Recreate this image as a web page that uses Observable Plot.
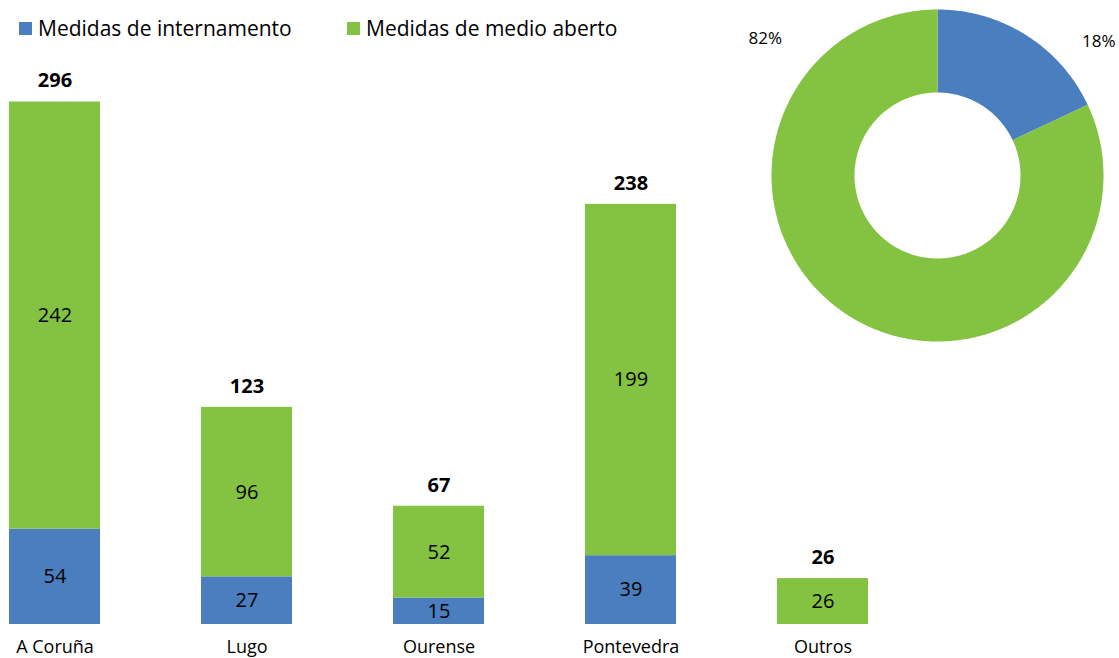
<!DOCTYPE html>
<html><head><meta charset="utf-8">
<script src="https://cdn.jsdelivr.net/npm/d3@7"></script>
<script src="https://cdn.jsdelivr.net/npm/@observablehq/plot@0.6"></script>
<style>
body{margin:0;background:#fff;}
#wrap{position:relative;width:1119px;height:658px;overflow:hidden;font-family:"Open Sans",sans-serif;}
#bars,#donut,#legend{position:absolute;top:0;}
#bars{left:0}
#donut{left:740px}
#legend{left:19px;top:14px;display:flex;}
.item{display:flex;align-items:center;font-size:21px;color:#000;white-space:nowrap}
.item:first-child{width:328px}
.sw{width:13px;height:13px;margin-right:6px;flex:none}
svg{background:transparent !important;font-family:"Open Sans",sans-serif;}
</style></head><body>
<div id="wrap"><div id="bars"></div><div id="donut"></div><div id="legend"></div></div>
<script>
const categories = ["A Coruña", "Lugo", "Ourense", "Pontevedra", "Outros"];
const series = ["Medidas de internamento", "Medidas de medio aberto"];
const internamento = [54, 27, 15, 39, 0];
const medioAberto = [242, 96, 52, 199, 26];
const colors = ["#4a7ebf", "#84c241"];

const rows = categories.flatMap((c, i) => [
  {category: c, series: series[0], value: internamento[i]},
  {category: c, series: series[1], value: medioAberto[i]}
]);
const totals = categories.map((c, i) => ({category: c, total: internamento[i] + medioAberto[i]}));

const bars = Plot.plot({
  width: 1119, height: 658,
  style: {background: "transparent", fontFamily: "Open Sans"},
  x: {domain: categories, range: [8, 869], paddingInner: 0.527, paddingOuter: 0, axis: null},
  y: {domain: [0, d3.max(totals, d => d.total)], range: [624, 101.5], axis: null},
  color: {domain: series, range: colors},
  marks: [
    Plot.barY(rows, {x: "category", y: "value", fill: "series"}),
    Plot.text(rows.filter(d => d.value > 0), Plot.stackY({x: "category", y: "value", text: "value", fontSize: 20, fill: "#000"})),
    Plot.text(totals, {x: "category", y: "total", text: "total", dy: -21, fontWeight: "bold", fontSize: 20, fill: "#000"}),
    Plot.text(categories, {x: d => d, y: () => 0, text: d => d, dy: 23, fontSize: 18, fill: "#000"})
  ]
});
document.getElementById("bars").appendChild(bars);

// legend
const leg = document.getElementById("legend");
series.forEach((s, i) => {
  const it = document.createElement("div");
  it.className = "item";
  it.innerHTML = `<span class="sw" style="background:${colors[i]}"></span><span>${s}</span>`;
  leg.appendChild(it);
});

// donut
const seriesTotals = [d3.sum(internamento), d3.sum(medioAberto)];
const grand = d3.sum(seriesTotals);
const R = 166, r0 = 83;
const arcs = d3.pie().sort(null).value(d => d)(seriesTotals);
function ring(a0, a1) {
  const n = Math.max(2, Math.ceil((a1 - a0) / 0.01));
  const pts = [];
  for (let i = 0; i <= n; i++) { const a = a0 + (a1 - a0) * i / n; pts.push([R * Math.sin(a), -R * Math.cos(a)]); }
  for (let i = n; i >= 0; i--) { const a = a0 + (a1 - a0) * i / n; pts.push([r0 * Math.sin(a), -r0 * Math.cos(a)]); }
  pts.push(pts[0]);
  return pts;
}
const features = arcs.map((a, i) => ({
  type: "Feature",
  properties: {series: series[i]},
  geometry: {type: "Polygon", coordinates: [ring(a.startAngle, a.endAngle)]}
}));
const pct = seriesTotals.map(v => Math.round(v / grand * 100) + "%");

const donut = Plot.plot({
  width: 379, height: 350, margin: 0,
  style: {background: "transparent", fontFamily: "Open Sans"},
  projection: {type: "identity", domain: {type: "MultiPoint", coordinates: [[-197, -175], [182, 175]]}},
  color: {domain: series, range: colors},
  marks: [
    Plot.geo(features, {fill: d => d.properties.series}),
    Plot.text([pct[1]], {frameAnchor: "top-left", text: d => d, dx: 8, dy: 38, lineAnchor: "middle", textAnchor: "start", fontSize: 17, fill: "#000"}),
    Plot.text([pct[0]], {frameAnchor: "top-right", text: d => d, dx: -4, dy: 41, lineAnchor: "middle", textAnchor: "end", fontSize: 17, fill: "#000"})
  ]
});
document.getElementById("donut").appendChild(donut);
</script>
</body></html>
